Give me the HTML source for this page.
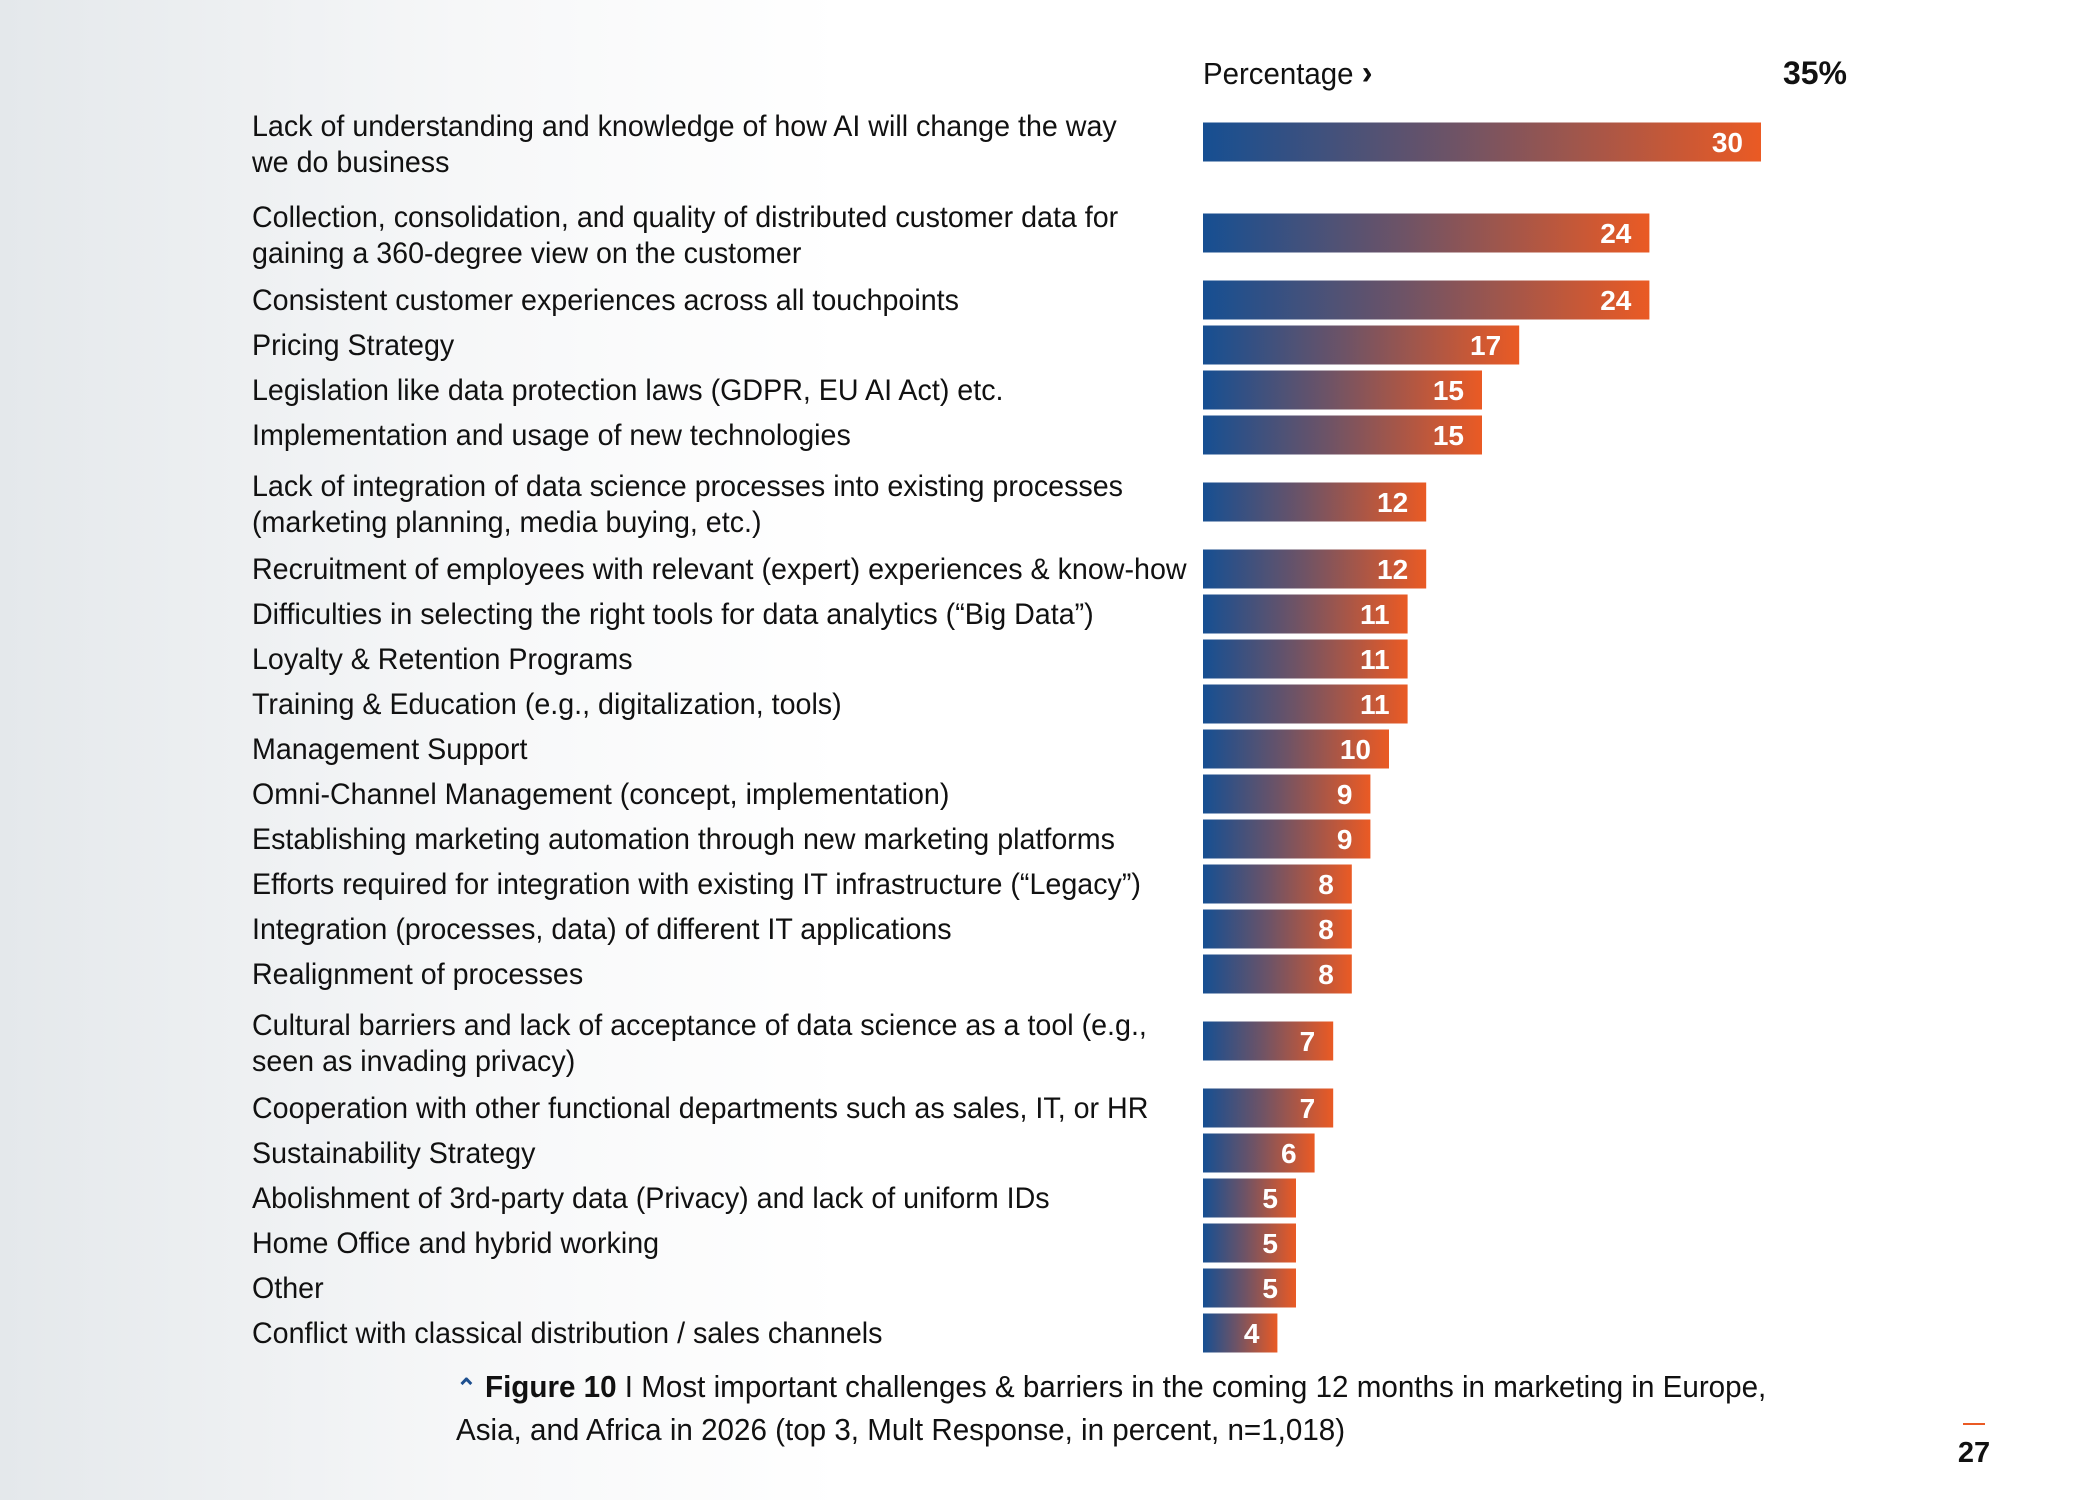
<!DOCTYPE html>
<html><head><meta charset="utf-8">
<style>
html,body{margin:0;padding:0;}
body{width:2100px;height:1500px;overflow:hidden;background:linear-gradient(90deg,#e4e8eb 0%,#f6f7f8 22%,#ffffff 40%,#ffffff 100%);font-family:"Liberation Sans",sans-serif;}
svg{position:absolute;left:0;top:0;}
</style></head>
<body>
<svg id="chart" width="2100" height="1500">
<defs>
<linearGradient id="barGrad" x1="0" x2="1" y1="0" y2="0">
<stop offset="0" stop-color="#164f92"/>
<stop offset="0.45" stop-color="#6e5366"/>
<stop offset="1" stop-color="#ea5a24"/>
</linearGradient>
</defs>
<text x="1203" y="84" font-size="31" fill="#111" transform="translate(1203,0) scale(0.95,1) translate(-1203,0)">Percentage <tspan font-weight="bold" font-size="34">›</tspan></text>
<text x="1847" y="84" font-size="32" font-weight="bold" fill="#111" text-anchor="end">35%</text>
<g id="rows"></g>
<text x="456" y="1397" font-size="31" fill="#111" transform="translate(456,0) scale(0.955,1) translate(-456,0)"><tspan fill="#1d4f8f" font-weight="bold" font-size="26">⌃</tspan> <tspan font-weight="bold">Figure 10</tspan> I Most important challenges &amp; barriers in the coming 12 months in marketing in Europe,<tspan x="456" dy="43">Asia, and Africa in 2026 (top 3, Mult Response, in percent, n=1,018)</tspan></text>
<rect x="1963" y="1423" width="22" height="2" fill="#ea5a24"/>
<text x="1974" y="1462" font-size="29" font-weight="bold" fill="#111" text-anchor="middle">27</text>
</svg>
<script>
const categories = [
["Lack of understanding and knowledge of how AI will change the way","we do business"],
["Collection, consolidation, and quality of distributed customer data for","gaining a 360-degree view on the customer"],
["Consistent customer experiences across all touchpoints"],
["Pricing Strategy"],
["Legislation like data protection laws (GDPR, EU AI Act) etc."],
["Implementation and usage of new technologies"],
["Lack of integration of data science processes into existing processes","(marketing planning, media buying, etc.)"],
["Recruitment of employees with relevant (expert) experiences & know-how"],
["Difficulties in selecting the right tools for data analytics (“Big Data”)"],
["Loyalty & Retention Programs"],
["Training & Education (e.g., digitalization, tools)"],
["Management Support"],
["Omni-Channel Management (concept, implementation)"],
["Establishing marketing automation through new marketing platforms"],
["Efforts required for integration with existing IT infrastructure (“Legacy”)"],
["Integration (processes, data) of different IT applications"],
["Realignment of processes"],
["Cultural barriers and lack of acceptance of data science as a tool (e.g.,","seen as invading privacy)"],
["Cooperation with other functional departments such as sales, IT, or HR"],
["Sustainability Strategy"],
["Abolishment of 3rd-party data (Privacy) and lack of uniform IDs"],
["Home Office and hybrid working"],
["Other"],
["Conflict with classical distribution / sales channels"]
];
const values = [30,24,24,17,15,15,12,12,11,11,11,10,9,9,8,8,8,7,7,6,5,5,5,4];

const NS="http://www.w3.org/2000/svg";
const x0=1203, pxPerUnit=18.6, barH=39, labelX=252;
function xScale(v){return v*pxPerUnit;}
const g=document.getElementById('rows');
let y=142;
values.forEach((v,i)=>{
  const lines=categories[i];
  if(i>0){
    const prevTwo=categories[i-1].length>1, curTwo=lines.length>1;
    y += (prevTwo&&curTwo) ? 91 : ((prevTwo||curTwo) ? 67 : 45);
  }
  const r=document.createElementNS(NS,'rect');
  r.setAttribute('x',x0);r.setAttribute('y',y-barH/2);
  r.setAttribute('width',xScale(v));r.setAttribute('height',barH);
  r.setAttribute('fill','url(#barGrad)');
  
  
  g.appendChild(r);
  const t=document.createElementNS(NS,'text');
  t.setAttribute('x',x0+xScale(v)-18);t.setAttribute('y',y+10);
  t.setAttribute('text-anchor','end');t.setAttribute('fill','#fff');
  t.setAttribute('font-weight','bold');t.setAttribute('font-size','28');
  t.textContent=v;
  
  
  g.appendChild(t);
  const l=document.createElementNS(NS,'text');
  l.setAttribute('font-size','30');l.setAttribute('fill','#111');
  l.setAttribute('transform','translate('+labelX+',0) scale(0.955,1)');
  const startY = lines.length>1 ? y-6 : y+10;
  lines.forEach((s,k)=>{
    const ts=document.createElementNS(NS,'tspan');
    ts.setAttribute('x',0);ts.setAttribute('y',startY+k*36);
    ts.textContent=s;
    l.appendChild(ts);
  });
  
  
  g.appendChild(l);
});
</script>
</body></html>
